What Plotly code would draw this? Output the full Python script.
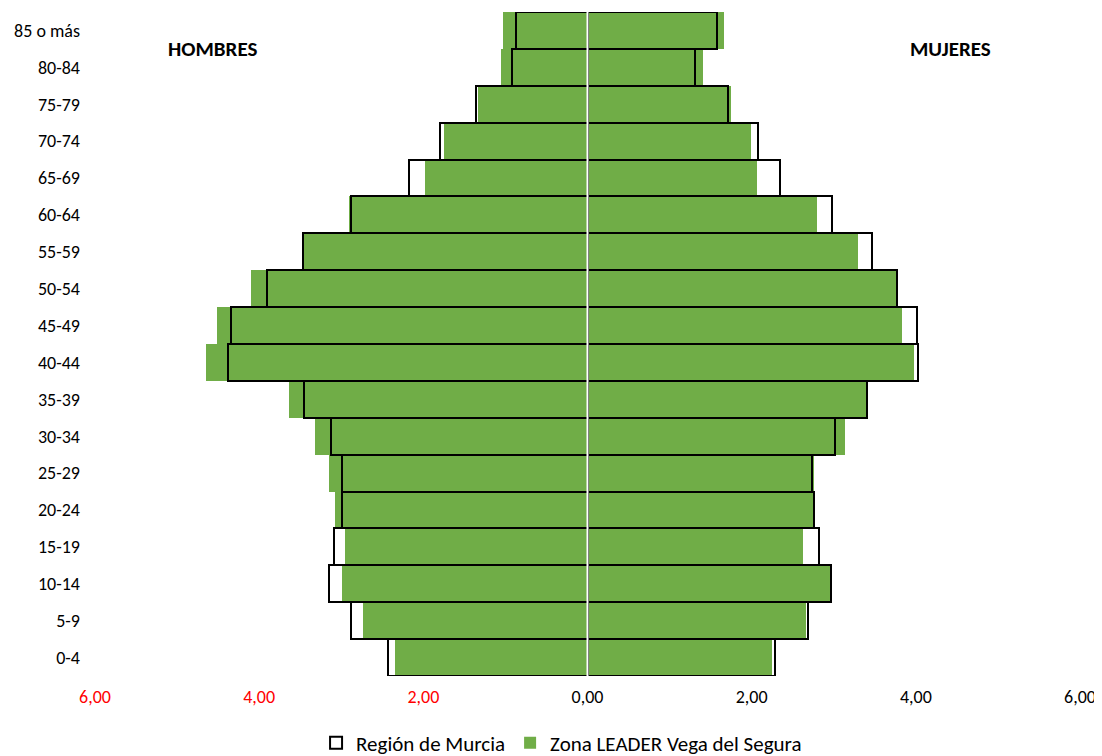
import plotly.graph_objects as go

ages = ["0-4", "5-9", "10-14", "15-19", "20-24", "25-29", "30-34", "35-39", "40-44",
        "45-49", "50-54", "55-59", "60-64", "65-69", "70-74", "75-79", "80-84", "85 o más"]

# Zona LEADER Vega del Segura (%)
leader_hombres = [2.35, 2.73, 2.99, 2.96, 3.08, 3.15, 3.32, 3.64, 4.65,
                  4.51, 4.10, 3.45, 2.90, 1.98, 1.75, 1.34, 1.05, 1.03]
leader_mujeres = [2.25, 2.66, 2.96, 2.62, 2.75, 2.76, 3.14, 3.39, 3.98,
                  3.83, 3.78, 3.29, 2.79, 2.07, 1.99, 1.75, 1.41, 1.66]

# Región de Murcia (%)
murcia_hombres = [2.43, 2.88, 3.15, 3.09, 2.99, 2.99, 3.12, 3.45, 4.38,
                  4.34, 3.90, 3.47, 2.88, 2.17, 1.80, 1.36, 0.92, 0.87]
murcia_mujeres = [2.29, 2.69, 2.97, 2.82, 2.76, 2.73, 3.02, 3.40, 4.03,
                  4.02, 3.77, 3.47, 2.98, 2.34, 2.08, 1.71, 1.31, 1.58]

tick_vals = [-6, -4, -2, 0, 2, 4, 6]
tick_text = ["<span style='color:#FF0000'>6,00</span>",
             "<span style='color:#FF0000'>4,00</span>",
             "<span style='color:#FF0000'>2,00</span>",
             "0,00", "2,00", "4,00", "6,00"]

GREEN = "#70AD47"
FONT = "Carlito, Lato, sans-serif"

fig = go.Figure()

fig.add_trace(go.Bar(y=ages, x=[-v for v in leader_hombres], orientation="h",
                     name="Zona LEADER Vega del Segura", legendgroup="leader",
                     legendrank=2, marker=dict(color=GREEN, line=dict(width=0))))
fig.add_trace(go.Bar(y=ages, x=leader_mujeres, orientation="h",
                     name="Zona LEADER Vega del Segura", legendgroup="leader",
                     showlegend=False, marker=dict(color=GREEN, line=dict(width=0))))
fig.add_trace(go.Bar(y=ages, x=[-v for v in murcia_hombres], orientation="h",
                     name="Región de Murcia", legendgroup="murcia", legendrank=1,
                     marker=dict(color="rgba(255,255,255,0)", line=dict(color="#000000", width=2))))
fig.add_trace(go.Bar(y=ages, x=murcia_mujeres, orientation="h",
                     name="Región de Murcia", legendgroup="murcia", showlegend=False,
                     marker=dict(color="rgba(255,255,255,0)", line=dict(color="#000000", width=2))))

# white centre line
fig.add_shape(type="line", xref="x", yref="paper", x0=0, x1=0, y0=0, y1=1,
              line=dict(color="#FFFFFF", width=2), layer="above")

fig.add_annotation(x=0.119, y=0.944, xref="paper", yref="paper", text="<b>HOMBRES</b>",
                   showarrow=False, xanchor="center", yanchor="middle",
                   font=dict(family=FONT, size=21, color="#000000"))
fig.add_annotation(x=0.869, y=0.944, xref="paper", yref="paper", text="<b>MUJERES</b>",
                   showarrow=False, xanchor="center", yanchor="middle",
                   font=dict(family=FONT, size=21, color="#000000"))

fig.update_layout(
    width=1094, height=748,
    margin=dict(l=87, r=22, t=4, b=80, autoexpand=False),
    barmode="overlay", bargap=0,
    plot_bgcolor="#FFFFFF", paper_bgcolor="#FFFFFF",
    font=dict(family=FONT, size=18, color="#000000"),
    xaxis=dict(range=[-6, 6], tickvals=tick_vals, ticktext=tick_text,
               showgrid=False, zeroline=False, showline=False, ticks="",
               automargin=False, ticklabelstandoff=8,
               tickfont=dict(family=FONT, size=18, color="#000000")),
    yaxis=dict(categoryorder="array", categoryarray=ages,
               showgrid=False, zeroline=False, showline=False, ticks="",
               automargin=False, ticklabelstandoff=14,
               tickfont=dict(family=FONT, size=18, color="#000000")),
    legend=dict(orientation="h", xref="container", yref="paper",
                x=0.506, xanchor="center", y=-0.101, yanchor="middle",
                font=dict(family=FONT, size=21, color="#000000"),
                traceorder="normal"),
    showlegend=True,
)

fig.write_html("out.html")
